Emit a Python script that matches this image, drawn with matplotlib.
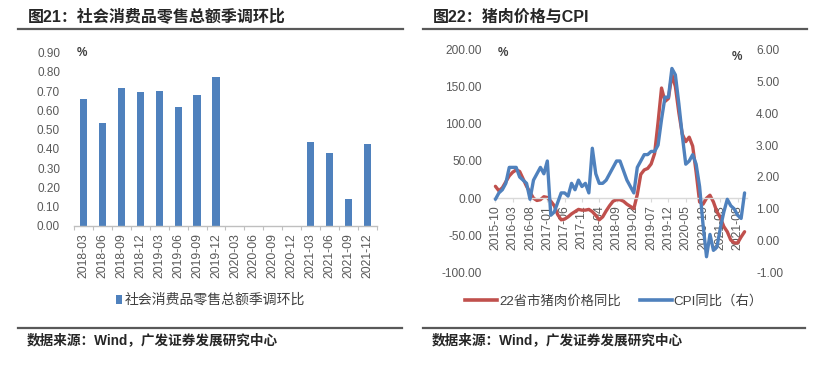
import numpy as np
import pandas as pd
import matplotlib
matplotlib.use('Agg')
import matplotlib.pyplot as plt
from matplotlib.lines import Line2D
from matplotlib.patches import Patch
from matplotlib.ticker import FormatStrFormatter

plt.rcParams['font.family'] = ['Liberation Sans', 'Noto Sans CJK SC']
plt.rcParams['axes.unicode_minus'] = False

# ---------------- data ----------------
quarters = ['2018-03', '2018-06', '2018-09', '2018-12',
            '2019-03', '2019-06', '2019-09', '2019-12',
            '2020-03', '2020-06', '2020-09', '2020-12',
            '2021-03', '2021-06', '2021-09', '2021-12']
retail_qoq = [0.66, 0.535, 0.715, 0.695, 0.70, 0.62, 0.678, 0.773,
              np.nan, np.nan, np.nan, np.nan, 0.436, 0.377, 0.138, 0.428]

months = list(pd.date_range('2015-10-01', periods=73, freq='MS').strftime('%Y-%m'))
pork_yoy = [16, 10, 14, 22, 30, 35, 38, 36, 26, 16,
            8, 0, -3, -2, 2, 1, -4, -10, -22, -29,
            -28, -25, -21, -18, -15, -16, -16, -15, -18, -23,
            -29, -25, -17, -10, -4, -2, -2, -4, -8, -11,
            -14, 5, 32, 38, 40, 46, 60, 102, 148, 130,
            134, 166, 150, 115, 86, 76, 82, 70, 35, -5,
            -8, 0, 4, -5, -18, -26, -38, -45, -56, -60,
            -60, -52, -45]
cpi_yoy = [1.3, 1.5, 1.6,
           1.8, 2.3, 2.3, 2.3, 2.0, 1.9, 1.8, 1.3, 1.9, 2.1, 2.3, 2.1,
           2.5, 0.8, 0.9, 1.2, 1.5, 1.5, 1.4, 1.8, 1.6, 1.9, 1.7, 1.8,
           1.5, 2.9, 2.1, 1.8, 1.8, 1.9, 2.1, 2.3, 2.5, 2.5, 2.2, 1.9,
           1.7, 1.5, 2.3, 2.5, 2.7, 2.7, 2.8, 2.8, 3.0, 3.8, 4.5, 4.5,
           5.4, 5.2, 4.3, 3.3, 2.4, 2.5, 2.7, 2.4, 1.7, 0.5, -0.5, 0.2,
           -0.3, -0.2, 0.4, 0.9, 1.3, 1.1, 1.0, 0.8, 0.7, 1.5]

# ---------------- styles ----------------
W, H = 831, 367
TICK = '#595959'
DARK = '#262626'
BLUE = '#4F81BD'
RED = '#C0504D'

def fx(px):
    return px / W

def fy(py):
    return 1 - py / H

fig = plt.figure(figsize=(W / 100, H / 100), dpi=100)

# ---------------- left chart ----------------
ax1 = fig.add_axes([fx(74), fy(226), fx(377) - fx(74), fy(52.7) - fy(226)])
xq = np.arange(len(quarters))
ax1.bar(xq, retail_qoq, width=0.38, color=BLUE)
ax1.set_xlim(-0.5, len(quarters) - 0.5)
ax1.set_ylim(0, 0.9)
ax1.set_yticks(np.arange(0, 0.91, 0.1))
ax1.yaxis.set_major_formatter(FormatStrFormatter('%.2f'))
for s in ['left', 'top', 'right']:
    ax1.spines[s].set_visible(False)
ax1.spines['bottom'].set_color('#BFBFBF')
ax1.spines['bottom'].set_linewidth(1.0)
ax1.tick_params(axis='y', length=0, pad=10, labelsize=8.5, labelcolor=TICK)
ax1.set_xticks(xq)
ax1.set_xticklabels(quarters, rotation=90)
ax1.tick_params(axis='x', which='major', length=0, pad=5, labelsize=8.8, labelcolor=TICK)
ax1.set_xticks(np.arange(-0.5, len(quarters), 1.0), minor=True)
ax1.tick_params(axis='x', which='minor', length=3, color='#BFBFBF', width=0.8)
fig.text(fx(77), fy(53), '%', fontsize=8.5, fontweight='bold', color='#404040',
         ha='left', va='center')

ax1.legend(handles=[Patch(facecolor=BLUE, edgecolor='none')],
           labels=['社会消费品零售总额季调环比'],
           loc='center', bbox_to_anchor=(fx(210.5), fy(300)),
           bbox_transform=fig.transFigure, frameon=False,
           handlelength=0.4, handleheight=0.6, handletextpad=0.2,
           fontsize=10, labelcolor='#404040')

# ---------------- right chart ----------------
axL = fig.add_axes([fx(493), fy(272.7), fx(747) - fx(493), fy(49.3) - fy(272.7)])
xm = np.arange(len(months))
axL.plot(xm, pork_yoy, color=RED, lw=2.4, solid_joinstyle='round',
         solid_capstyle='round')
axL.set_xlim(-0.7, len(months) - 0.3)
axL.set_ylim(-100, 200)
axL.set_yticks(np.arange(-100, 201, 50))
axL.yaxis.set_major_formatter(FormatStrFormatter('%.2f'))
for s in ['left', 'top', 'right']:
    axL.spines[s].set_visible(False)
axL.spines['bottom'].set_position(('data', 0))
axL.spines['bottom'].set_color('#D9D9D9')
axL.spines['bottom'].set_linewidth(1.0)
axL.set_xticks(xm[::5])
axL.set_xticklabels(months[::5], rotation=90)
axL.tick_params(axis='x', length=3, color='#D9D9D9', pad=2, labelsize=8.8,
                labelcolor=TICK)
axL.tick_params(axis='y', length=0, pad=8, labelsize=8.6, labelcolor=TICK)

axR = axL.twinx()
axR.plot(xm, cpi_yoy, color=BLUE, lw=2.4, solid_joinstyle='round',
         solid_capstyle='round')
axR.set_ylim(-1, 6)
axR.set_yticks(np.arange(-1, 7, 1))
axR.yaxis.set_major_formatter(FormatStrFormatter('%.2f'))
for s in axR.spines.values():
    s.set_visible(False)
axR.tick_params(axis='y', length=0, pad=6.5, labelsize=8.6, labelcolor=TICK)

fig.text(fx(498), fy(52.7), '%', fontsize=8.5, fontweight='bold', color='#404040',
         ha='left', va='center')
fig.text(fx(732), fy(57), '%', fontsize=8.5, fontweight='bold', color='#404040',
         ha='left', va='center')

fig.legend(handles=[Line2D([], [], color=RED, lw=2.6),
                    Line2D([], [], color=BLUE, lw=2.6)],
           labels=['22省市猪肉价格同比', 'CPI同比（右）'],
           loc='center', bbox_to_anchor=(fx(614), fy(301.7)),
           ncol=2, frameon=False, handlelength=2.4, handletextpad=0.15,
           columnspacing=1.4, fontsize=9.6, labelcolor='#404040')

# ---------------- titles, rules, sources ----------------
fig.text(fx(28), fy(17), '图21：社会消费品零售总额季调环比', fontsize=11.5,
         fontweight='bold', color=DARK, ha='left', va='center')
fig.text(fx(432.7), fy(17), '图22：猪肉价格与CPI', fontsize=11.5,
         fontweight='bold', color=DARK, ha='left', va='center')

for (x0, x1, y) in [(18, 403, 29.3), (423, 806.7, 29.3),
                    (18, 402, 327.7), (423, 805, 327.7)]:
    fig.add_artist(Line2D([fx(x0), fx(x1)], [fy(y), fy(y)], color='#595959',
                          lw=1.6, transform=fig.transFigure))

fig.text(fx(27), fy(340.5), '数据来源：Wind，广发证券发展研究中心', fontsize=9.8,
         fontweight='bold', color=DARK, ha='left', va='center')
fig.text(fx(432), fy(340.5), '数据来源：Wind，广发证券发展研究中心', fontsize=9.8,
         fontweight='bold', color=DARK, ha='left', va='center')

fig.savefig('out.png', dpi=100, facecolor='white')
